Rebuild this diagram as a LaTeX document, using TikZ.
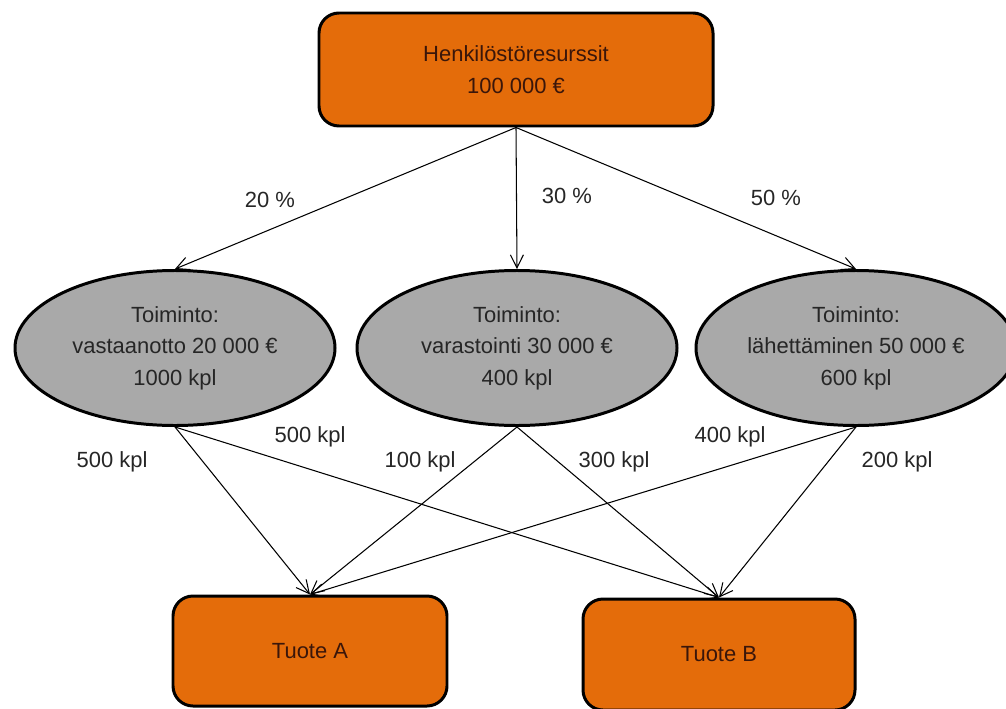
\documentclass[tikz,border=0pt]{standalone}
\usepackage{fontspec}
\setmainfont{Liberation Sans}
\usepackage{tikz}
\usetikzlibrary{positioning, arrows.meta, shapes.geometric}
\usepackage{xcolor}
\definecolor{resorange}{HTML}{E46C0A}
\definecolor{actgray}{HTML}{A9A9A9}
\definecolor{boxtext}{HTML}{3A160A}

\begin{document}
\begin{tikzpicture}[
      every node/.style={font=\fontsize{12.5}{18}\selectfont},
      resbox/.style={draw, line width=1.7pt, rounded corners=0.4cm, fill=resorange, text=boxtext, align=center},
      actnode/.style={draw, ellipse, line width=1.7pt, fill=actgray, text=black!85, align=center,
        minimum width=6.4cm, minimum height=3.1cm, inner sep=0pt},
      flowlbl/.style={text=black!85},
      >={Straight Barb[length=2.6mm, width=2.6mm]},
    ]
    \useasboundingbox (0,0) rectangle (20.12,14.16);

    \node[resbox, minimum width=7.88cm, minimum height=2.26cm] (res) at (10.32,12.77)
      {Henkilöstöresurssit\\100 000 €};

    \node[actnode] (vast) at (3.5,7.2) {Toiminto:\\vastaanotto 20 000 €\\1000 kpl};
    \node[actnode] (vara) at (10.34,7.2) {Toiminto:\\varastointi 30 000 €\\400 kpl};
    \node[actnode] (lahe) at (17.12,7.2) {Toiminto:\\lähettäminen 50 000 €\\600 kpl};

    \node[resbox, minimum width=5.48cm, minimum height=2.2cm] (tuoA) at (6.2,1.14) {Tuote A};
    \node[resbox, minimum width=5.44cm, minimum height=2.22cm] (tuoB) at (14.38,1.07) {Tuote B};

    % jako toiminnoille
    \draw[->, line width=0.6pt] (res.south) -- (vast.north);
    \draw[->, line width=0.6pt] (res.south) -- (vara.north);
    \draw[->, line width=0.6pt] (res.south) -- (lahe.north);
    \node[flowlbl] (p20) at (5.4,10.16) {20 \%};
    \node[flowlbl] (p30) at (11.34,10.24) {30 \%};
    \node[flowlbl] (p50) at (15.52,10.2) {50 \%};

    % toiminnot tuotteille
    \draw[->, line width=0.6pt] (vast.south) -- (tuoA.north);
    \draw[->, line width=0.6pt] (vast.south) -- (tuoB.north);
    \draw[->, line width=0.6pt] (vara.south) -- (tuoA.north);
    \draw[->, line width=0.6pt] (vara.south) -- (tuoB.north);
    \draw[->, line width=0.6pt] (lahe.south) -- (tuoA.north);
    \draw[->, line width=0.6pt] (lahe.south) -- (tuoB.north);
    \node[flowlbl] (k1) at (2.24,4.92) {500 kpl};
    \node[flowlbl] (k2) at (6.2,5.42) {500 kpl};
    \node[flowlbl] (k3) at (8.4,4.92) {100 kpl};
    \node[flowlbl] (k4) at (12.28,4.92) {300 kpl};
    \node[flowlbl] (k5) at (14.6,5.42) {400 kpl};
    \node[flowlbl] (k6) at (17.94,4.92) {200 kpl};
  \end{tikzpicture}
\end{document}
